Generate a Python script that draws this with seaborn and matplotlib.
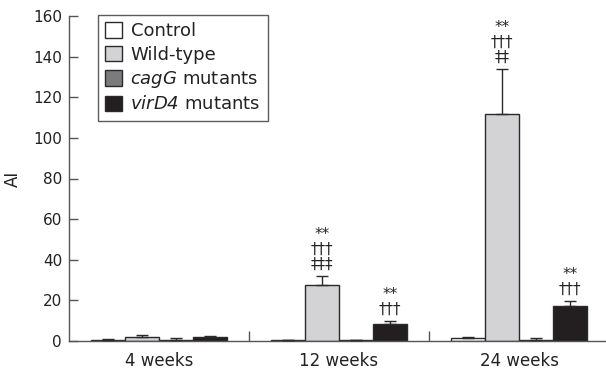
import numpy as np
import pandas as pd
import matplotlib
matplotlib.use("Agg")
import matplotlib.pyplot as plt
import seaborn as sns
from matplotlib.patches import Patch
from matplotlib.ticker import FixedLocator

# ---- data ----
timepoints = ["4 weeks", "12 weeks", "24 weeks"]
groups = ["Control", "Wild-type", "cagG mutants", "virD4 mutants"]
control = [0.5, 0.3, 1.5]
wild_type = [2.2, 27.5, 112.0]
cagg = [0.5, 0.3, 0.7]
vird4 = [2.0, 8.5, 17.2]
control_err = [0.3, 0.3, 0.5]
wild_type_err = [0.6, 4.5, 21.8]
cagg_err = [1.2, 0.3, 0.6]
vird4_err = [0.6, 1.3, 2.5]
annotations = {
    ("12 weeks", "Wild-type"): "**\n†††\n‡‡‡",
    ("24 weeks", "Wild-type"): "**\n†††\n‡‡",
    ("12 weeks", "virD4 mutants"): "**\n†††",
    ("24 weeks", "virD4 mutants"): "**\n†††",
}
colors = ["#ffffff", "#d3d3d5", "#7b7b7d", "#231f20"]
ytick_vals = [0, 20, 40, 60, 80, 100, 120, 140, 160]

values = [control, wild_type, cagg, vird4]
errors = [control_err, wild_type_err, cagg_err, vird4_err]
rows = []
for g, vals, errs in zip(groups, values, errors):
    for t, v, e in zip(timepoints, vals, errs):
        rows.append({"time": t, "group": g, "AI": v, "err": e})
df = pd.DataFrame(rows)

sns.set_style("ticks")
plt.rcParams["font.family"] = ["DejaVu Sans"]
plt.rcParams["mathtext.fontset"] = "custom"
plt.rcParams["mathtext.it"] = "DejaVu Sans:italic"
plt.rcParams["mathtext.rm"] = "DejaVu Sans:italic"

fig = plt.figure(figsize=(6.06, 3.73), dpi=100)
ax = fig.add_axes([69 / 606, 32 / 373, 540 / 606, 325 / 373])

edge = "#2a2a2a"
axcol = "#555555"
sns.barplot(data=df, x="time", y="AI", hue="group", order=timepoints,
            hue_order=groups, palette=colors, errorbar=None, width=0.756,
            gap=0, edgecolor=edge, linewidth=1.0, saturation=1, ax=ax,
            legend=False)

# error bars (upper only) and annotations, placed at seaborn's bar positions
for gi, g in enumerate(groups):
    cont = ax.containers[gi]
    for ti, bar in enumerate(cont):
        xc = bar.get_x() + bar.get_width() / 2
        h = bar.get_height()
        e = errors[gi][ti]
        ax.errorbar([xc], [h], yerr=[[0], [e]], fmt="none", ecolor=edge,
                    elinewidth=1.0, capsize=4, capthick=1.0, zorder=3)
        key = (timepoints[ti], g)
        if key in annotations:
            ax.annotate(annotations[key], xy=(xc, h + e), xytext=(0, 3),
                        textcoords="offset points", ha="center", va="bottom",
                        fontsize=11, linespacing=1.0, color="#222222")

ax.set_xlim(-0.5, 2.5)
ax.set_ylim(0, 160)
ax.set_yticks(ytick_vals)
ax.set_xlabel("")
ax.set_ylabel("AI", fontsize=12, labelpad=8, color="#222222")
sns.despine(ax=ax)
for sp in ["left", "bottom"]:
    ax.spines[sp].set_color(axcol)
    ax.spines[sp].set_linewidth(1.0)
ax.tick_params(axis="y", direction="in", length=6.5, width=1.0,
               color=axcol, labelsize=11, labelcolor="#222222", pad=5)
ax.tick_params(axis="x", which="major", length=0, labelsize=12,
               labelcolor="#222222", pad=8)
ax.xaxis.set_minor_locator(FixedLocator([0.5, 1.5]))
ax.tick_params(axis="x", which="minor", direction="in", length=7.5,
               width=1.0, color=axcol)

labels = ["Control", "Wild-type", r"$\mathrm{cagG}$ mutants",
          r"$\mathrm{virD4}$ mutants"]
handles = [Patch(facecolor=c, edgecolor=edge, linewidth=1.0) for c in colors]
leg = ax.legend(handles, labels, loc="upper left",
                bbox_to_anchor=(29 / 540, 1.003), fontsize=13,
                frameon=True, fancybox=False, handlelength=0.95,
                handleheight=0.95, handletextpad=0.45, labelspacing=0.3,
                borderpad=0.4, borderaxespad=0)
leg.get_frame().set_edgecolor("#333333")
leg.get_frame().set_linewidth(1.0)
for t in leg.get_texts():
    t.set_color("#222222")

fig.savefig("out.png", dpi=100)
